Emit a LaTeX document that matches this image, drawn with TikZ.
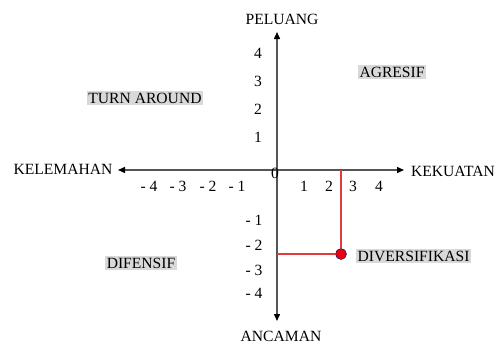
\documentclass[tikz,border=0pt]{standalone}
\usepackage{fontspec}
\setmainfont{Liberation Serif}
\usepackage{xcolor}
\definecolor{cAxis}{HTML}{555555}
\definecolor{cRed}{HTML}{E03C3C}
\definecolor{cDot}{HTML}{E8000E}
\definecolor{cBox}{HTML}{D9D9D9}
\usetikzlibrary{arrows.meta,calc}
\tikzset{
  axis-line/.style={line width=1.4pt,draw=cAxis,
    -{Triangle[length=7pt,width=6pt,color=black]}},
  axis-title/.style={font=\fontsize{15.6}{17}\selectfont,inner sep=0pt},
  tick-label/.style={font=\fontsize{15.6}{17}\selectfont,inner sep=0pt},
  quad-label/.style={fill=cBox,font=\fontsize{15.6}{17}\selectfont,
    inner sep=1.5pt},
  red-line/.style={draw=cRed,line width=1.3pt},
  red-dot/.style={circle,fill=cDot,draw=blue!40!black,line width=0.4pt,
    minimum size=11pt,inner sep=0pt},
}
\begin{document}
\begin{tikzpicture}[x=1pt,y=-1pt]
  \useasboundingbox (0,0) rectangle (497,343);
  % sumbu
  \coordinate (o)   at (277,170);
  \coordinate (top) at (277,32);
  \coordinate (bot) at (277,321);
  \coordinate (lft) at (118,170);
  \coordinate (rgt) at (404,170);
  \draw[axis-line] (o) -- (top);
  \draw[axis-line] (o) -- (bot);
  \draw[axis-line] (o) -- (lft);
  \draw[axis-line] (o) -- (rgt);
  \node[axis-title] (peluang) at (282,19)  {PELUANG};
  \node[axis-title] (ancaman) at (281,336) {ANCAMAN};
  \node[axis-title] (lemah)   at (63,169)  {KELEMAHAN};
  \node[axis-title,anchor=east] (kuat) at (495,171) {KEKUATAN};
  % angka sumbu y
  \foreach \v/\py in {4/53,3/81,2/109,1/137}
    \node[tick-label] (y\v) at (258,\py) {\v};
  \foreach \v/\py in {1/220,2/245,3/270,4/293}
    \node[tick-label] (ym\v) at (254,\py) {- \v};
  % angka sumbu x
  \foreach \v/\px in {1/304,2/329,3/353,4/379}
    \node[tick-label] (x\v) at (\px,186) {\v};
  \foreach \v/\px in {1/237,2/208,3/178,4/149}
    \node[tick-label] (xm\v) at (\px,186) {- \v};
  \node[tick-label] (nol) at (275,173) {0};
  % kuadran
  \node[quad-label] (agresif) at (392,72)  {AGRESIF};
  \node[quad-label] (turn)    at (145,98)  {TURN AROUND};
  \node[quad-label] (difensif) at (141,263) {DIFENSIF};
  % posisi
  \node[red-dot] (pos) at (341,254) {};
  \draw[red-line] (pos) -- (pos |- o);
  \draw[red-line] (pos) -- (o |- pos);
  \node[quad-label,anchor=west] (diver) at (356,256) {DIVERSIFIKASI};
\end{tikzpicture}
\end{document}
